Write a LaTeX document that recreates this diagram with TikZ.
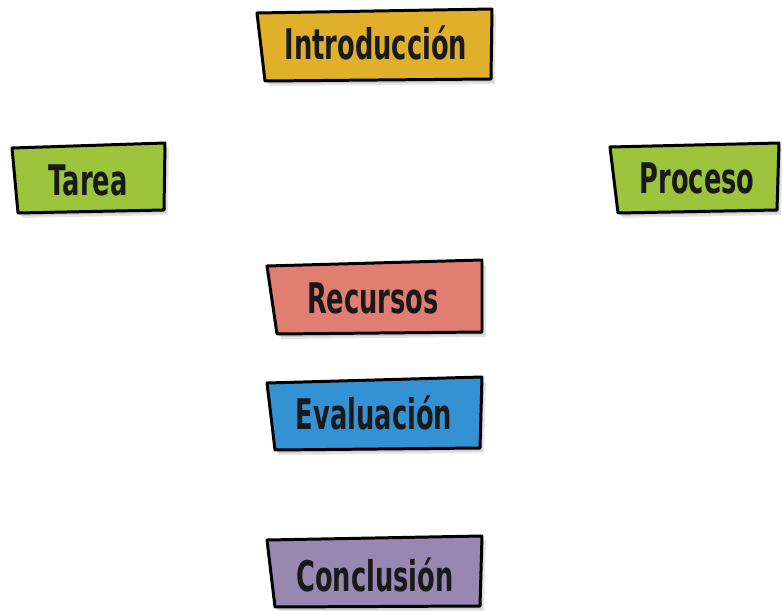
\documentclass[tikz,border=0pt]{standalone}
\usepackage{fontspec}
\usepackage{tikz}
\usetikzlibrary{positioning}
\newfontfamily\etiquetafont[FakeStretch=0.61]{DejaVu Sans}
\definecolor{oro}{HTML}{E0B02A}
\definecolor{lima}{HTML}{9CC43C}
\definecolor{salmon}{HTML}{E07E72}
\definecolor{azul}{HTML}{3592D2}
\definecolor{lavanda}{HTML}{9787B1}

\begin{document}
\begin{tikzpicture}[
    tarjeta/.style={draw=black, line width=1.7pt, line join=round,
      preaction={fill=black, opacity=0.10, transform canvas={shift={(0.04,-0.06)}}},
      preaction={fill=black, opacity=0.10, transform canvas={shift={(0.08,-0.10)}}}},
    etiqueta/.style={font=\etiquetafont\bfseries\fontsize{24}{28}\selectfont, text=black!90, inner sep=0pt}]
  \useasboundingbox (0,0) rectangle (15.64,12.2);
  % top
  \filldraw[tarjeta, fill=oro] (5.14,11.94) -- (9.84,12.02) -- (9.82,10.62) -- (5.30,10.58) -- cycle;
  \node[etiqueta] (intro) at (7.52,11.34) {Introducción};
  % left and right
  \filldraw[tarjeta, fill=lima] (0.24,9.24) -- (3.30,9.34) -- (3.28,8.00) -- (0.36,7.94) -- cycle;
  \node[etiqueta] (tarea) at (1.76,8.60) {Tarea};
  \filldraw[tarjeta, fill=lima] (12.20,9.26) -- (15.58,9.34) -- (15.54,8.00) -- (12.36,7.94) -- cycle;
  \node[etiqueta] (proceso) at (13.94,8.64) {Proceso};
  % middle column
  \filldraw[tarjeta, fill=salmon] (5.34,6.88) -- (9.64,7.00) -- (9.64,5.56) -- (5.54,5.52) -- cycle;
  \node[etiqueta] (recursos) at (7.46,6.24) {Recursos};
  \filldraw[tarjeta, fill=azul] (5.34,4.54) -- (9.64,4.66) -- (9.60,3.24) -- (5.50,3.20) -- cycle;
  \node[etiqueta] (evaluacion) at (7.48,3.94) {Evaluación};
  \filldraw[tarjeta, fill=lavanda] (5.34,1.40) -- (9.64,1.48) -- (9.60,0.08) -- (5.50,0.06) -- cycle;
  \node[etiqueta] (conclusion) at (7.50,0.70) {Conclusión};
\end{tikzpicture}
\end{document}
